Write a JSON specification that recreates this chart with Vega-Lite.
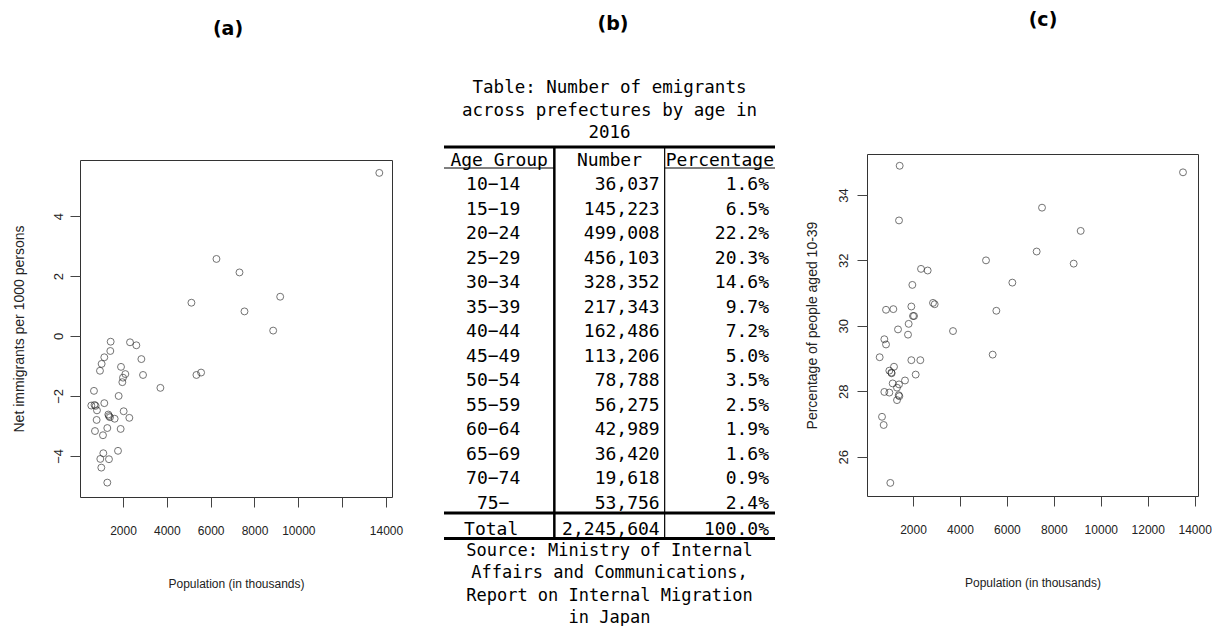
{
  "$schema": "https://vega.github.io/schema/vega-lite/v6.json",
  "padding": {"left": 11, "top": 10, "right": 0, "bottom": 0},
  "background": "white",
  "config": {
    "view": {"stroke": null},
    "axis": {
      "domain": false, "grid": false, "tickColor": "#444", "tickSize": 10, "tickWidth": 1,
      "labelFont": "Liberation Sans", "labelColor": "#222", "labelFontSize": 12,
      "titleFont": "Liberation Sans", "titleFontWeight": "normal", "titleColor": "#222", "titleFontSize": 12,
      "labelFlush": false, "labelOverlap": false
    }
  },
  "datasets": {
    "a": [
      {"pop": 13695, "net": 5.44}, {"pop": 6264, "net": 2.57}, {"pop": 7315, "net": 2.12}, {"pop": 9172, "net": 1.31},
      {"pop": 5122, "net": 1.11}, {"pop": 7543, "net": 0.82}, {"pop": 8852, "net": 0.18}, {"pop": 1437, "net": -0.19},
      {"pop": 1421, "net": -0.5}, {"pop": 2320, "net": -0.21}, {"pop": 2609, "net": -0.31}, {"pop": 1147, "net": -0.71},
      {"pop": 1025, "net": -0.93}, {"pop": 949, "net": -1.16}, {"pop": 2838, "net": -0.77}, {"pop": 1909, "net": -1.03},
      {"pop": 2107, "net": -1.27}, {"pop": 2000, "net": -1.39}, {"pop": 1970, "net": -1.54}, {"pop": 2914, "net": -1.3},
      {"pop": 5350, "net": -1.3}, {"pop": 5563, "net": -1.22}, {"pop": 3706, "net": -1.73}, {"pop": 675, "net": -1.83},
      {"pop": 1802, "net": -2.0}, {"pop": 553, "net": -2.32}, {"pop": 751, "net": -2.33}, {"pop": 812, "net": -2.48},
      {"pop": 1147, "net": -2.24}, {"pop": 1360, "net": -2.67}, {"pop": 1406, "net": -2.71}, {"pop": 1619, "net": -2.76},
      {"pop": 2030, "net": -2.51}, {"pop": 2289, "net": -2.73}, {"pop": 797, "net": -2.8}, {"pop": 721, "net": -3.17},
      {"pop": 1284, "net": -3.07}, {"pop": 1086, "net": -3.31}, {"pop": 1893, "net": -3.1}, {"pop": 1772, "net": -3.83},
      {"pop": 1102, "net": -3.91}, {"pop": 965, "net": -4.1}, {"pop": 1360, "net": -4.11}, {"pop": 1010, "net": -4.39},
      {"pop": 1284, "net": -4.89}, {"pop": 700, "net": -2.3}, {"pop": 1330, "net": -2.62}
    ],
    "c": [
      {"pop": 1432, "pct": 34.89}, {"pop": 13502, "pct": 34.69}, {"pop": 7496, "pct": 33.61}, {"pop": 1404, "pct": 33.22},
      {"pop": 9143, "pct": 32.9}, {"pop": 7268, "pct": 32.27}, {"pop": 5110, "pct": 32.0}, {"pop": 8845, "pct": 31.9},
      {"pop": 2341, "pct": 31.74}, {"pop": 2625, "pct": 31.69}, {"pop": 6232, "pct": 31.32}, {"pop": 1972, "pct": 31.25},
      {"pop": 850, "pct": 30.49}, {"pop": 1162, "pct": 30.51}, {"pop": 1929, "pct": 30.59}, {"pop": 2852, "pct": 30.7},
      {"pop": 2923, "pct": 30.66}, {"pop": 5550, "pct": 30.46}, {"pop": 2000, "pct": 30.3}, {"pop": 2043, "pct": 30.3},
      {"pop": 1815, "pct": 30.06}, {"pop": 1361, "pct": 29.89}, {"pop": 3704, "pct": 29.84}, {"pop": 1787, "pct": 29.73},
      {"pop": 779, "pct": 29.59}, {"pop": 850, "pct": 29.43}, {"pop": 580, "pct": 29.04}, {"pop": 5394, "pct": 29.12},
      {"pop": 1929, "pct": 28.95}, {"pop": 2312, "pct": 28.95}, {"pop": 1190, "pct": 28.75}, {"pop": 992, "pct": 28.63},
      {"pop": 1077, "pct": 28.57}, {"pop": 2114, "pct": 28.51}, {"pop": 1659, "pct": 28.33}, {"pop": 1134, "pct": 28.24},
      {"pop": 1404, "pct": 28.21}, {"pop": 1318, "pct": 28.11}, {"pop": 779, "pct": 27.98}, {"pop": 992, "pct": 27.96},
      {"pop": 1390, "pct": 27.88}, {"pop": 1418, "pct": 27.85}, {"pop": 1318, "pct": 27.73}, {"pop": 679, "pct": 27.22},
      {"pop": 750, "pct": 26.97}, {"pop": 1034, "pct": 25.2}, {"pop": 1090, "pct": 28.55}
    ],
    "table": [
      {"age": "10−14", "number": "36,037", "pct": "1.6%"},
      {"age": "15−19", "number": "145,223", "pct": "6.5%"},
      {"age": "20−24", "number": "499,008", "pct": "22.2%"},
      {"age": "25−29", "number": "456,103", "pct": "20.3%"},
      {"age": "30−34", "number": "328,352", "pct": "14.6%"},
      {"age": "35−39", "number": "217,343", "pct": "9.7%"},
      {"age": "40−44", "number": "162,486", "pct": "7.2%"},
      {"age": "45−49", "number": "113,206", "pct": "5.0%"},
      {"age": "50−54", "number": "78,788", "pct": "3.5%"},
      {"age": "55−59", "number": "56,275", "pct": "2.5%"},
      {"age": "60−64", "number": "42,989", "pct": "1.9%"},
      {"age": "65−69", "number": "36,420", "pct": "1.6%"},
      {"age": "70−74", "number": "19,618", "pct": "0.9%"},
      {"age": "75−", "number": "53,756", "pct": "2.4%"}
    ],
    "one": [{"k": 1}]
  },
  "resolve": {"scale": {"x": "independent", "y": "independent"}},
  "spacing": 38,
  "hconcat": [
    {
      "vconcat": [
        {
          "width": 312, "height": 150,
          "data": {"values": [{"t": "(a)"}]},
          "mark": {"type": "text", "font": "DejaVu Sans", "fontWeight": "bold", "fontSize": 19, "dx": -8, "baseline": "middle", "color": "black"},
          "encoding": {
            "y": {"datum": 0.8733, "type": "quantitative", "scale": {"domain": [0, 1]}, "axis": null},
            "text": {"field": "t"}
          }
        },
        {
          "width": 312, "height": 337,
          "view": {"stroke": "#333", "strokeWidth": 1},
          "data": {"name": "a"},
          "mark": {"type": "point", "shape": "circle", "filled": false, "color": "#222", "size": 48, "strokeWidth": 0.9},
          "encoding": {
            "x": {"field": "pop", "type": "quantitative",
              "scale": {"domain": [38, 14274], "nice": false, "zero": false},
              "axis": {"values": [2000, 4000, 6000, 8000, 10000, 12000, 14000], "format": "d",
                "labelExpr": "datum.value == 12000 ? '' : datum.label",
                "labelPadding": 18, "title": "Population (in thousands)", "titlePadding": 42}},
            "y": {"field": "net", "type": "quantitative",
              "scale": {"domain": [-5.37, 5.87], "nice": false, "zero": false},
              "axis": {"values": [-4, -2, 0, 2, 4], "labelAngle": 270, "labelAlign": "center", "labelBaseline": "bottom",
                "labelFontSize": 13, "labelPadding": 5,
                "title": "Net immigrants per 1000 persons", "titleFontSize": 14, "titlePadding": 26}}
          }
        }
      ],
      "spacing": 0, "bounds": "flush",
      "resolve": {"scale": {"x": "independent", "y": "independent"}}
    },
    {
      "hconcat": [
        {
          "vconcat": [
            {
              "width": 331, "height": 136.5,
              "data": {"values": [{"t": "(b)"}]},
              "mark": {"type": "text", "font": "DejaVu Sans", "fontWeight": "bold", "fontSize": 19, "dx": 3.5, "baseline": "middle", "color": "black"},
              "encoding": {
                "y": {"datum": 0.8974, "type": "quantitative", "scale": {"domain": [0, 1]}, "axis": null},
                "text": {"field": "t"}
              }
            },
            {
              "width": 331, "height": 21,
              "title": {"text": ["Table: Number of emigrants", "across prefectures by age in", "2016"],
                "font": "DejaVu Sans Mono", "fontSize": 17.5, "fontWeight": "normal", "lineHeight": 22.5,
                "baseline": "bottom", "offset": -14, "anchor": "middle", "color": "black"},
              "data": {"values": [{"c1": "Age Group", "c2": "Number", "c3": "Percentage"}]},
              "layer": [
                {"mark": {"type": "text", "font": "DejaVu Sans Mono", "fontSize": 18, "baseline": "middle", "align": "center", "color": "black"},
                 "encoding": {"x": {"datum": 0.5, "type": "quantitative", "scale": {"domain": [0, 3], "nice": false}, "axis": null},
                   "y": {"datum": 0.35, "type": "quantitative", "scale": {"domain": [0, 1], "nice": false}, "axis": null},
                   "text": {"field": "c1"}}},
                {"mark": {"type": "text", "font": "DejaVu Sans Mono", "fontSize": 18, "baseline": "middle", "align": "center", "color": "black"},
                 "encoding": {"x": {"datum": 1.5, "type": "quantitative"}, "y": {"datum": 0.35, "type": "quantitative"}, "text": {"field": "c2"}}},
                {"mark": {"type": "text", "font": "DejaVu Sans Mono", "fontSize": 18, "baseline": "middle", "align": "center", "color": "black"},
                 "encoding": {"x": {"datum": 2.5, "type": "quantitative"}, "y": {"datum": 0.35, "type": "quantitative"}, "text": {"field": "c3"}}},
                {"mark": {"type": "rule", "strokeWidth": 3, "color": "black"},
                 "encoding": {"y": {"datum": 1, "type": "quantitative"}}},
                {"mark": {"type": "rule", "strokeWidth": 1, "color": "black"},
                 "encoding": {"x": {"datum": 0, "type": "quantitative"}, "x2": {"datum": 1}, "y": {"datum": 0, "type": "quantitative"}}},
                {"mark": {"type": "rule", "strokeWidth": 1, "color": "black"},
                 "encoding": {"x": {"datum": 2, "type": "quantitative"}, "x2": {"datum": 3}, "y": {"datum": 0, "type": "quantitative"}}},
                {"mark": {"type": "rule", "strokeWidth": 2.5, "color": "black"},
                 "encoding": {"x": {"datum": 1, "type": "quantitative"}}},
                {"mark": {"type": "rule", "strokeWidth": 1.2, "color": "black"},
                 "encoding": {"x": {"datum": 2, "type": "quantitative"}}}
              ]
            },
            {
              "width": 331, "height": 345,
              "data": {"name": "table"},
              "layer": [
                {"mark": {"type": "text", "font": "DejaVu Sans Mono", "fontSize": 18, "baseline": "middle", "align": "center", "dx": -6, "color": "black"},
                 "encoding": {"x": {"datum": 0.5, "type": "quantitative", "scale": {"domain": [0, 3], "nice": false}, "axis": null},
                   "y": {"field": "age", "type": "ordinal", "sort": null, "scale": {"type": "point", "padding": 0.54, "align": 0.66}, "axis": null},
                   "text": {"field": "age"}}},
                {"mark": {"type": "text", "font": "DejaVu Sans Mono", "fontSize": 18, "baseline": "middle", "align": "right", "dx": -5, "color": "black"},
                 "encoding": {"x": {"datum": 2, "type": "quantitative"},
                   "y": {"field": "age", "type": "ordinal", "sort": null},
                   "text": {"field": "number"}}},
                {"mark": {"type": "text", "font": "DejaVu Sans Mono", "fontSize": 18, "baseline": "middle", "align": "right", "dx": -6, "color": "black"},
                 "encoding": {"x": {"datum": 3, "type": "quantitative"},
                   "y": {"field": "age", "type": "ordinal", "sort": null},
                   "text": {"field": "pct"}}},
                {"data": {"name": "one"}, "mark": {"type": "rule", "strokeWidth": 2.5, "color": "black"},
                 "encoding": {"x": {"datum": 1, "type": "quantitative"}}},
                {"data": {"name": "one"}, "mark": {"type": "rule", "strokeWidth": 1.2, "color": "black"},
                 "encoding": {"x": {"datum": 2, "type": "quantitative"}}}
              ]
            },
            {
              "width": 331, "height": 25.5,
              "title": {"text": ["Source: Ministry of Internal", "Affairs and Communications,", "Report on Internal Migration", "in Japan"],
                "orient": "bottom", "font": "DejaVu Sans Mono", "fontSize": 17, "fontWeight": "normal", "lineHeight": 22.3,
                "baseline": "top", "offset": 3, "anchor": "middle", "color": "black"},
              "data": {"values": [{"c1": "Total", "c2": "2,245,604", "c3": "100.0%"}]},
              "layer": [
                {"mark": {"type": "text", "font": "DejaVu Sans Mono", "fontSize": 18, "baseline": "middle", "align": "center", "dx": -8, "color": "black"},
                 "encoding": {"x": {"datum": 0.5, "type": "quantitative", "scale": {"domain": [0, 3], "nice": false}, "axis": null},
                   "y": {"datum": 0.314, "type": "quantitative", "scale": {"domain": [0, 1], "nice": false}, "axis": null},
                   "text": {"field": "c1"}}},
                {"mark": {"type": "text", "font": "DejaVu Sans Mono", "fontSize": 18, "baseline": "middle", "align": "right", "dx": -5, "color": "black"},
                 "encoding": {"x": {"datum": 2, "type": "quantitative"}, "y": {"datum": 0.314, "type": "quantitative"}, "text": {"field": "c2"}}},
                {"mark": {"type": "text", "font": "DejaVu Sans Mono", "fontSize": 18, "baseline": "middle", "align": "right", "dx": -6, "color": "black"},
                 "encoding": {"x": {"datum": 3, "type": "quantitative"}, "y": {"datum": 0.314, "type": "quantitative"}, "text": {"field": "c3"}}},
                {"mark": {"type": "rule", "strokeWidth": 3, "color": "black"},
                 "encoding": {"y": {"datum": 1, "type": "quantitative"}}},
                {"mark": {"type": "rule", "strokeWidth": 3, "color": "black"},
                 "encoding": {"y": {"datum": 0, "type": "quantitative"}}},
                {"mark": {"type": "rule", "strokeWidth": 2.5, "color": "black"},
                 "encoding": {"x": {"datum": 1, "type": "quantitative"}}},
                {"mark": {"type": "rule", "strokeWidth": 1.2, "color": "black"},
                 "encoding": {"x": {"datum": 2, "type": "quantitative"}}}
              ]
            }
          ],
          "spacing": 0, "bounds": "flush",
          "resolve": {"scale": {"x": "independent", "y": "independent"}}
        },
        {
          "vconcat": [
            {
              "width": 331, "height": 144,
              "data": {"values": [{"t": "(c)"}]},
              "mark": {"type": "text", "font": "DejaVu Sans", "fontWeight": "bold", "fontSize": 19, "dx": 10.5, "baseline": "middle", "color": "black"},
              "encoding": {
                "y": {"datum": 0.9306, "type": "quantitative", "scale": {"domain": [0, 1]}, "axis": null},
                "text": {"field": "t"}
              }
            },
            {
              "width": 331, "height": 342,
              "view": {"stroke": "#333", "strokeWidth": 1},
              "data": {"name": "c"},
              "mark": {"type": "point", "shape": "circle", "filled": false, "color": "#222", "size": 48, "strokeWidth": 0.9},
              "encoding": {
                "x": {"field": "pop", "type": "quantitative",
                  "scale": {"domain": [40, 14141], "nice": false, "zero": false},
                  "axis": {"values": [2000, 4000, 6000, 8000, 10000, 12000, 14000], "format": "d",
                    "labelPadding": 18, "title": "Population (in thousands)", "titlePadding": 42}},
                "y": {"field": "pct", "type": "quantitative",
                  "scale": {"domain": [24.8, 35.25], "nice": false, "zero": false},
                  "axis": {"values": [26, 28, 30, 32, 34], "labelAngle": 270, "labelAlign": "center", "labelBaseline": "bottom",
                    "labelFontSize": 13, "labelPadding": 7,
                    "title": "Percentage of people aged 10-39", "titleFontSize": 14, "titlePadding": 18}}
              }
            }
          ],
          "spacing": 0, "bounds": "flush",
          "resolve": {"scale": {"x": "independent", "y": "independent"}}
        }
      ],
      "spacing": 27,
      "resolve": {"scale": {"x": "independent", "y": "independent"}}
    }
  ]
}
